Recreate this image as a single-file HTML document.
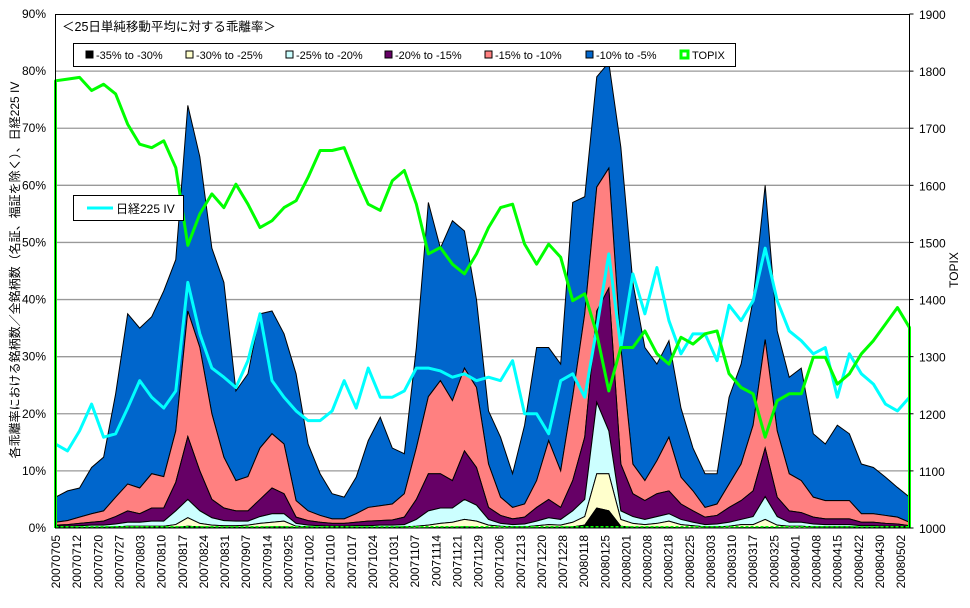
<!DOCTYPE html>
<html><head><meta charset="utf-8">
<style>
body{margin:0;background:#fff;}
svg text{font-family:"Liberation Sans","Noto Sans CJK JP",sans-serif;}
</style></head>
<body>
<svg id="chart" width="970" height="603" viewBox="0 0 970 603" xmlns="http://www.w3.org/2000/svg">
<rect x="0" y="0" width="970" height="603" fill="#fff"/>
<g id="grid"></g>
<g id="areas"></g>
<g id="lines"></g>
<rect x="55.5" y="14.5" width="854" height="513.5" fill="none" stroke="#000" stroke-width="1"/>
<g id="axes"></g>
<text x="62" y="31" font-size="12.5">＜25日単純移動平均に対する乖離率＞</text>
<g>
<rect x="73.5" y="43.5" width="662" height="23" fill="#fff" stroke="#000"/>
<rect x="86" y="51" width="7" height="7" fill="#000" stroke="#000"/>
<text x="96" y="59" font-size="11">-35% to -30%</text>
<rect x="186" y="51" width="7" height="7" fill="#FFFFCC" stroke="#000"/>
<text x="196" y="59" font-size="11">-30% to -25%</text>
<rect x="286" y="51" width="7" height="7" fill="#CCFFFF" stroke="#000"/>
<text x="296" y="59" font-size="11">-25% to -20%</text>
<rect x="385" y="51" width="7" height="7" fill="#660066" stroke="#000"/>
<text x="395" y="59" font-size="11">-20% to -15%</text>
<rect x="485" y="51" width="7" height="7" fill="#FF8080" stroke="#000"/>
<text x="495" y="59" font-size="11">-15% to -10%</text>
<rect x="586" y="51" width="7" height="7" fill="#0066CC" stroke="#000"/>
<text x="596" y="59" font-size="11">-10% to -5%</text>
<rect x="681" y="51" width="7" height="7" fill="#fff" stroke="#00FF00" stroke-width="3"/>
<text x="692" y="59" font-size="11">TOPIX</text>
</g>
<g>
<rect x="73.5" y="195.5" width="110" height="25" fill="#fff" stroke="#000"/>
<line x1="87" y1="208" x2="113" y2="208" stroke="#00FFFF" stroke-width="3"/>
<text x="116" y="213" font-size="12">日経225 IV</text>
</g>
<text transform="translate(19,270) rotate(-90)" text-anchor="middle" font-size="12">各乖離率における銘柄数／全銘柄数（名証、福証を除く）、日経225 IV</text>
<text transform="translate(958,270) rotate(-90)" text-anchor="middle" font-size="12">TOPIX</text>
</svg>
<script>
// cumulative share of stocks (%) with deviation below each threshold
const below5  = [5.4,6.5,7,10.6,12.4,23.5,37.5,35,37,41.5,47,74,65,49,43,24,27,37.5,38,34,27,14.7,9.5,6,5.4,8.9,15.3,19.4,14,13,31.6,57,49,53.8,52,40,20.5,15.9,9.5,18,31.6,31.6,28.7,57,58,79,81.5,66.7,43,31.6,28.7,32.8,21,14,9.5,9.5,22.9,28.7,40,60,34.5,26.4,28,16.5,14.7,18,16.5,11.2,10.6,8.9,7.1,5.4];
const below10 = [1,1.3,1.9,2.5,3,5.4,7.7,7,9.5,9,17,38,31.6,20,12.4,8.3,9,14,16.5,14.7,4.8,3,2.2,1.6,1.6,2.5,3.6,3.9,4.2,6,14,23,25.8,22.3,28,24.6,11.2,5.4,3.6,4.2,8.3,15.3,10,23,37.5,59.7,63,31.6,11.2,8.3,11.8,15.9,8.9,6.5,3.6,4.2,7.7,11.2,18,33,17,9.5,8.3,5.4,4.8,4.8,4.8,2.5,2.5,2.2,1.9,1];
const below15 = [0.5,0.6,0.8,1,1.2,2,3,2.5,3.5,3.5,8,16,10,5,3.5,3,3,5,7,6,1.9,1.3,1,0.8,0.8,1,1.2,1.3,1.4,1.9,5,9.5,9.5,8.3,13.5,10.6,3.6,2.2,1.6,1.9,3.6,5,3.6,8.3,15.9,38,42,11.2,6,4.8,6,6.5,4.2,3,1.9,2.2,3.6,4.8,6.5,14,5.4,3,2.7,1.9,1.6,1.6,1.6,1,1,0.8,0.7,0.4];
const below20 = [0.3,0.3,0.4,0.5,0.5,0.7,1,1,1.2,1.2,3,5,3,1.8,1.3,1.2,1.2,2,2.5,2.5,0.8,0.5,0.4,0.3,0.3,0.4,0.4,0.5,0.5,0.6,1.5,3,3.5,3.5,5,4,1.5,0.8,0.6,0.7,1.2,1.8,1.5,3,5,22,17,3,2,1.5,2,2.5,1.5,1,0.6,0.7,1,1.5,2,5.5,2,1,1,0.7,0.6,0.6,0.6,0.4,0.4,0.3,0.3,0.2];
const below25 = [0.1,0.1,0.1,0.1,0.1,0.2,0.3,0.3,0.3,0.3,0.6,1.8,0.8,0.5,0.4,0.4,0.5,0.8,1,1.2,0.3,0.2,0.1,0.1,0.1,0.1,0.1,0.1,0.1,0.2,0.3,0.5,0.8,1,1.5,1.2,0.5,0.3,0.2,0.2,0.4,0.6,0.5,1,2,9.5,9.5,1.5,0.8,0.6,0.8,1.2,0.6,0.4,0.2,0.2,0.3,0.6,0.6,1.5,0.5,0.3,0.3,0.2,0.2,0.2,0.2,0.1,0.1,0.1,0.1,0.1];
const below30 = [0,0,0,0,0,0,0.05,0.05,0.1,0.1,0.1,0.3,0.2,0.1,0.1,0.1,0.1,0.1,0.2,0.2,0.05,0,0,0,0,0,0,0,0,0,0,0.05,0.1,0.1,0.2,0.1,0.05,0,0,0,0.05,0.1,0.1,0.2,0.5,3.5,3,0.3,0.1,0.1,0.1,0.1,0.05,0,0,0,0,0.05,0.05,0.1,0.05,0,0,0,0,0,0,0,0,0,0,0];
const topix = [1783,1786,1789,1766,1777,1760,1707,1672,1666,1678,1631,1495,1550,1585,1561,1602,1567,1526,1538,1561,1573,1614,1661,1661,1666,1614,1567,1556,1608,1626,1567,1480,1491,1462,1445,1480,1526,1561,1567,1497,1462,1497,1474,1398,1410,1340,1240,1316,1316,1345,1305,1287,1334,1322,1340,1345,1270,1246,1235,1159,1223,1235,1235,1299,1299,1252,1270,1305,1328,1357,1386,1351];
const nikkeiIV = [14.7,13.5,17,21.7,15.9,16.5,21,25.8,22.9,21,24,43,34,28,26.4,24.6,29.3,37.5,25.8,22.9,20.5,18.8,18.8,20.5,25.8,21,28,22.9,22.9,24,28,28,27.5,26.4,27,25.8,26.4,25.8,29.3,20,20,16.5,25.8,27,22.9,35,48,31.6,44.5,37.5,45.6,36.3,30.5,34,34,29.3,39,36.3,39.8,49,39.8,34.5,32.8,30.5,31.6,22.9,30.5,27,25.2,21.7,20.5,22.9];
const dateLabels = ["20070705","20070712","20070720","20070727","20070803","20070810","20070817","20070824","20070831","20070907","20070914","20070925","20071002","20071010","20071017","20071024","20071031","20071107","20071114","20071121","20071129","20071206","20071213","20071220","20071228","20080118","20080125","20080201","20080208","20080218","20080225","20080303","20080310","20080317","20080325","20080401","20080408","20080415","20080422","20080430","20080502"];
const leftTicks = [0,10,20,30,40,50,60,70,80,90];
const rightTicks = [1000,1100,1200,1300,1400,1500,1600,1700,1800,1900];

const NS="http://www.w3.org/2000/svg";
const X0=55.5,X1=909.5,Y0=528,Y1=14;
const totalDays=202.1;
const N=below5.length;
function xDay(d){return X0+d*(X1-X0)/totalDays;}
function xIdx(i){return xDay(i*totalDays/(N-1));}
function yL(v){return Y0-(v/90)*(Y0-Y1);}
function yR(v){return Y0-((v-1000)/900)*(Y0-Y1);}
function mk(tag,attrs,parent){const e=document.createElementNS(NS,tag);for(const k in attrs)e.setAttribute(k,attrs[k]);parent.appendChild(e);return e;}

const grid=document.getElementById('grid');
leftTicks.forEach(t=>{if(t>0&&t<90){const l=mk('line',{x1:X0,x2:X1,y1:yL(t),y2:yL(t),stroke:'#999','stroke-width':1.3},grid);

}});

const areas=document.getElementById('areas');
const bands=[[below5,below10,'#0066CC','band-10-to-5'],[below10,below15,'#FF8080','band-15-to-10'],[below15,below20,'#660066','band-20-to-15'],[below20,below25,'#CCFFFF','band-25-to-20'],[below25,below30,'#FFFFCC','band-30-to-25'],[below30,null,'#000000','band-35-to-30']];
bands.forEach(b=>{
  let d='M'+xIdx(0)+','+yL(b[0][0]);
  for(let i=1;i<N;i++)d+=' L'+xIdx(i)+','+yL(b[0][i]);
  for(let i=N-1;i>=0;i--)d+=' L'+xIdx(i)+','+yL(b[1]?b[1][i]:0);
  d+='Z';
  const p=mk('path',{d:d,fill:b[2],stroke:'#000','stroke-width':1},areas);
  
  
});

const lines=document.getElementById('lines');
let dv='';nikkeiIV.forEach((v,i)=>{dv+=(i?' L':'M')+xIdx(i)+','+yL(v);});
const ivp=mk('path',{d:dv,fill:'none',stroke:'#00FFFF','stroke-width':3,'stroke-linejoin':'round'},lines);


let dt='M'+X0+','+Y0+' L'+X0+','+yR(topix[0]);
topix.forEach((v,i)=>{dt+=' L'+xIdx(i)+','+yR(v);});
dt+=' L'+X1+','+Y0;
const tp=mk('path',{d:dt,fill:'none',stroke:'#00FF00','stroke-width':3,'stroke-linejoin':'round'},lines);


const base=mk('line',{x1:X0,x2:X1,y1:Y0-1,y2:Y0-1,stroke:'#00FF00','stroke-width':2,'stroke-dasharray':'3,2'},lines);



const axes=document.getElementById('axes');
leftTicks.forEach(t=>{
  const tx=mk('text',{x:46,y:yL(t)+4,'text-anchor':'end','font-size':12},axes);
  tx.textContent=t+'%';
  
  
});
rightTicks.forEach(t=>{
  const tk=mk('line',{x1:X1,x2:X1+4,y1:yR(t),y2:yR(t),stroke:'#000'},axes);
  
  
  const tx=mk('text',{x:919,y:yR(t)+5,'font-size':12},axes);
  tx.textContent=String(t);
  
  
});
dateLabels.forEach((s,k)=>{
  const x=xDay(k*5);
  const tx=mk('text',{transform:'translate('+(x+4.5)+',535) rotate(-90)','text-anchor':'end','font-size':12},axes);
  tx.textContent=s;
  
  
});
</script>
</body></html>
